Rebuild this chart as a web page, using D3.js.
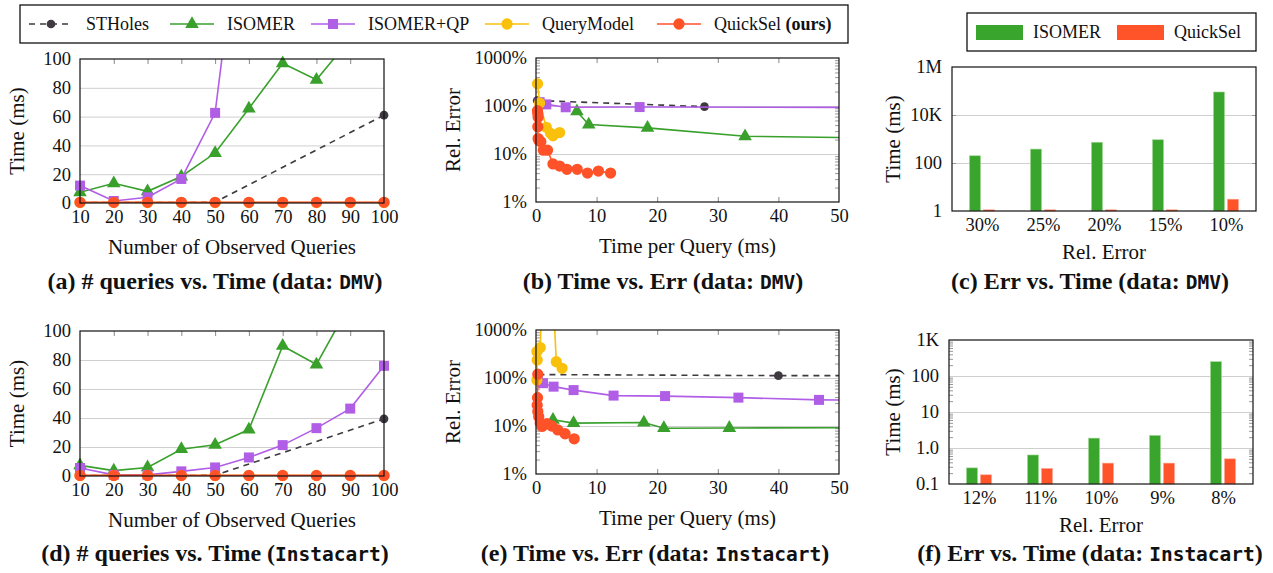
<!DOCTYPE html>
<html>
<head>
<meta charset="utf-8">
<script src="https://cdn.jsdelivr.net/npm/d3@7"></script>
<style>
  body { margin: 0; background: #fff; }
  text { font-family: 'Liberation Serif', 'Times New Roman', serif; fill: #111; }
</style>
</head>
<body>
<script>
// ---- data ----
var seriesNames = ["STHoles", "ISOMER", "ISOMER+QP", "QueryModel", "QuickSel"];
var seriesColors = ["#3e3a3f", "#39a02c", "#b15ee6", "#f9c00c", "#ff5229"];

var queryCounts = [10, 20, 30, 40, 50, 60, 70, 80, 90, 100];
var sthQueryCounts = [10, 20, 30, 40, 50, 100];

// (a) DMV, time (ms) vs number of observed queries
var dmvSTHolesTime = [0.3, 0.3, 0.3, 0.3, 0.6, 61];
var dmvIsomerTime = [7.4, 13.7, 8.1, 18.4, 34.7, 65.6, 97, 85.6, 114, 135];
var dmvIsomerQPTime = [12.1, 1.4, 4, 16.7, 62.6, 250, 420, 600, 800, 1000];
var dmvQueryModelTime = [0.3, 0.3, 0.3, 0.3, 0.3, 0.3, 0.3, 0.3, 0.3, 0.3];
var dmvQuickSelTime = [0.5, 0.5, 0.5, 0.5, 0.5, 0.5, 0.5, 0.5, 0.5, 0.5];

// (d) Instacart, time (ms) vs number of observed queries
var instSTHolesTime = [0.3, 0.3, 0.3, 0.3, 0.5, 39.4];
var instIsomerTime = [7.3, 3.7, 5.9, 18.5, 21.5, 32, 89.7, 76.9, 119, 150];
var instIsomerQPTime = [5.5, 0.8, 0.8, 3.2, 5.9, 12.8, 21.3, 33, 46.5, 76];
var instQueryModelTime = [0.3, 0.3, 0.3, 0.3, 0.3, 0.3, 0.3, 0.3, 0.3, 0.3];
var instQuickSelTime = [0.4, 0.4, 0.4, 0.4, 0.4, 0.4, 0.4, 0.4, 0.4, 0.4];

// (b) DMV, time per query (ms) / relative error (%)
var dmvSTHolesMs = [0.2, 27.8];
var dmvSTHolesErr = [130, 97];
var dmvIsomerMs = [6.75, 8.7, 18.4, 34.5, 70];
var dmvIsomerErr = [77, 41, 35, 23.4, 20.5];
var dmvIsomerQPMs = [0.6, 1.7, 4.9, 17.1, 60];
var dmvIsomerQPErr = [120, 108, 94, 95, 93];
var dmvQueryModelMs = [0.25, 0.6, 1.7, 2.4, 2.8, 3.9];
var dmvQueryModelErr = [290, 115, 36, 27, 24, 28];
var dmvQuickSelMs = [0.25, 0.3, 0.35, 0.3, 0.35, 0.5, 0.8, 1.2, 1.9, 2.8, 3.9, 5.1, 6.8, 8.5, 10.3, 12.3];
var dmvQuickSelErr = [80, 70, 58, 37, 21, 19, 18, 12, 12, 6.2, 5.6, 4.8, 4.8, 4.0, 4.4, 4.0];

// (e) Instacart, time per query (ms) / relative error (%)
var instSTHolesMs = [0.4, 40, 70];
var instSTHolesErr = [118, 112, 112];
var instIsomerMs = [2.8, 6.2, 17.8, 21.1, 31.9, 70];
var instIsomerErr = [13.5, 11.5, 11.8, 9.0, 9.1, 9.3];
var instIsomerQPMs = [0.3, 1.15, 2.9, 6.2, 12.8, 21.3, 33.4, 46.7, 70];
var instIsomerQPErr = [100, 78, 66, 56, 43, 42, 39, 35, 33];
var instQueryModelMs = [0.15, 0.2, 0.15, 0.7, 1.76, 3.35, 4.3];
var instQueryModelErr = [91, 238, 355, 430, 3000000, 218, 159];
var instQuickSelMs = [0.3, 0.25, 0.2, 0.3, 0.45, 0.7, 1.0, 1.8, 2.6, 3.6, 4.8, 6.3];
var instQuickSelErr = [120, 39, 27, 20, 15.6, 11.5, 9.8, 11.2, 10, 8.3, 6.9, 5.4];

// (c) / (f) bars: time (ms) to reach a relative error
var barNames = ["ISOMER", "QuickSel"];
var barColors = ["#3aa52c", "#ff532a"];
var dmvErrLabels = ["30%", "25%", "20%", "15%", "10%"];
var dmvBarIsomer = [200, 380, 730, 930, 91000];
var dmvBarQuickSel = [1.12, 1.12, 1.12, 1.12, 3.1];
var instErrLabels = ["12%", "11%", "10%", "9%", "8%"];
var instBarIsomer = [0.28, 0.64, 1.88, 2.23, 250];
var instBarQuickSel = [0.18, 0.27, 0.38, 0.38, 0.5];

var captions = [
    ["(a) # queries vs. Time (data: ", "DMV", ")"],
    ["(b) Time vs. Err (data: ", "DMV", ")"],
    ["(c) Err vs. Time (data: ", "DMV", ")"],
    ["(d) # queries vs. Time (", "Instacart", ")"],
    ["(e) Time vs. Err (data: ", "Instacart", ")"],
    ["(f) Err vs. Time (data: ", "Instacart", ")"]
];

// ---- drawing ----
var svg = d3.select("body").append("svg")
    .attr("width", 1273)
    .attr("height", 573);

var tickFont = "18.5px";
var labelFont = "21px";
var clipId = 0;

function symbolFor(i) {
    if (i == 1) return d3.symbol(d3.symbolTriangle, 80)();
    if (i == 2) return d3.symbol(d3.symbolSquare, 100)();
    if (i == 0) return d3.symbol(d3.symbolCircle, 60)();
    return d3.symbol(d3.symbolCircle, 100)();
}

function zip(xs, ys) {
    return xs.map(function(v, i) { return { x: v, y: ys[i] }; });
}

function styleAxis(g, color) {
    g.select(".domain").remove();
    g.selectAll("line").attr("stroke", color || "#888").attr("stroke-width", 1);
    g.selectAll("text").style("font-size", tickFont).style("font-family", "'Liberation Serif', serif").attr("fill", "#111");
}

function logMinor(lo, hi) {
    var out = [];
    for (var e = lo; e < hi; e++) {
        for (var k = 2; k <= 9; k++) out.push(k * Math.pow(10, e));
    }
    return out;
}

function drawLinePanel(p) {
    var g = svg.append("g");
    var x = p.x, y = p.y;
    var w = p.right - p.left;

    // horizontal grid
    g.append("g")
        .attr("transform", "translate(" + p.left + ",0)")
        .call(d3.axisLeft(y).tickValues(p.gridY).tickSize(-w).tickFormat(""))
        .call(styleAxis, "#cfcfcf");

    if (p.minorY) {
        g.append("g")
            .attr("transform", "translate(" + p.left + ",0)")
            .call(d3.axisLeft(y).tickValues(p.minorY).tickSize(-4).tickFormat(""))
            .call(styleAxis, "#999");
        g.append("g")
            .attr("transform", "translate(" + p.right + ",0)")
            .call(d3.axisRight(y).tickValues(p.minorY).tickSize(-4).tickFormat(""))
            .call(styleAxis, "#999");
    }

    // inner x tick marks at top and bottom
    g.append("g")
        .attr("transform", "translate(0," + p.bottom + ")")
        .call(d3.axisBottom(x).tickValues(p.innerX).tickSize(-5).tickFormat(""))
        .call(styleAxis, "#888");
    g.append("g")
        .attr("transform", "translate(0," + p.top + ")")
        .call(d3.axisTop(x).tickValues(p.innerX).tickSize(-5).tickFormat(""))
        .call(styleAxis, "#888");

    // clip for lines
    clipId++;
    var cid = "clip" + clipId;
    svg.append("clipPath").attr("id", cid).append("rect")
        .attr("x", p.left).attr("y", p.top)
        .attr("width", w).attr("height", p.bottom - p.top);

    var line = d3.line().x(function(d) { return x(d.x); }).y(function(d) { return y(d.y); });
    var yd = y.domain();
    var xd = x.domain();

    p.series.forEach(function(s, i) {
        var col = seriesColors[i];
        g.append("path")
            .datum(s)
            .attr("clip-path", "url(#" + cid + ")")
            .attr("d", line)
            .attr("fill", "none")
            .attr("stroke", col)
            .attr("stroke-width", 1.6)
            .attr("stroke-dasharray", i == 0 ? "6,5" : null);
        g.selectAll(".m" + i)
            .data(s.filter(function(d) { return d.y <= yd[1] && d.y >= yd[0] && d.x <= xd[1]; }))
            .enter().append("path")
            .attr("class", "m" + i)
            .attr("transform", function(d) { return "translate(" + x(d.x) + "," + y(d.y) + ")"; })
            .attr("d", symbolFor(i))
            .attr("fill", col);
    });

    // frame
    g.append("rect")
        .attr("x", p.left).attr("y", p.top)
        .attr("width", w).attr("height", p.bottom - p.top)
        .attr("fill", "none").attr("stroke", "#111").attr("stroke-width", 1.2);

    // tick labels
    g.append("g")
        .attr("transform", "translate(0," + p.bottom + ")")
        .call(d3.axisBottom(x).tickValues(p.ticksX).tickSize(0).tickPadding(7).tickFormat(d3.format("d")))
        .call(styleAxis);
    g.append("g")
        .attr("transform", "translate(" + p.left + ",0)")
        .call(d3.axisLeft(y).tickValues(p.ticksY).tickSize(0).tickPadding(9).tickFormat(p.fmtY))
        .call(styleAxis);

    g.append("text")
        .attr("x", (p.left + p.right) / 2).attr("y", p.bottom + 51)
        .attr("text-anchor", "middle").style("font-size", labelFont)
        .text(p.xLabel);
    g.append("text")
        .attr("transform", "translate(" + p.yLabelX + "," + ((p.top + p.bottom) / 2) + ") rotate(-90)")
        .attr("text-anchor", "middle").attr("dy", "0.35em").style("font-size", labelFont)
        .text(p.yLabel);
}

function drawBarPanel(p) {
    var g = svg.append("g");
    var w = p.right - p.left;
    var x = d3.scalePoint().domain(p.labels).range([p.left + 30, p.right - 30]);
    var y = d3.scaleLog().domain(p.domainY).range([p.bottom, p.top]);

    g.append("g")
        .attr("transform", "translate(" + p.left + ",0)")
        .call(d3.axisLeft(y).tickValues(p.gridY).tickSize(-w).tickFormat(""))
        .call(styleAxis, "#cfcfcf");
    g.append("g")
        .attr("transform", "translate(" + p.right + ",0)")
        .call(d3.axisRight(y).tickValues(p.markY).tickSize(-4).tickFormat(""))
        .call(styleAxis, "#999");
    g.append("g")
        .attr("transform", "translate(" + p.left + ",0)")
        .call(d3.axisLeft(y).tickValues(p.markY).tickSize(-4).tickFormat(""))
        .call(styleAxis, "#999");

    var groups = [p.isomer, p.quicksel];
    groups.forEach(function(vals, k) {
        g.selectAll(".b" + k)
            .data(vals)
            .enter().append("rect")
            .attr("class", "b" + k)
            .attr("x", function(d, i) { return x(p.labels[i]) + (k == 0 ? -12.5 : 1.5); })
            .attr("y", function(d) { return y(d); })
            .attr("width", 11)
            .attr("height", function(d) { return p.bottom - y(d); })
            .attr("fill", barColors[k])
            .attr("stroke", k == 0 ? "#9fd893" : "#ffa58f")
            .attr("stroke-width", 0.6);
    });

    g.append("rect")
        .attr("x", p.left).attr("y", p.top)
        .attr("width", w).attr("height", p.bottom - p.top)
        .attr("fill", "none").attr("stroke", "#111").attr("stroke-width", 1.2);

    g.append("g")
        .attr("transform", "translate(0," + p.bottom + ")")
        .call(d3.axisBottom(x).tickSize(0).tickPadding(7))
        .call(styleAxis);
    g.append("g")
        .attr("transform", "translate(" + p.left + ",0)")
        .call(d3.axisLeft(y).tickValues(p.ticksY).tickSize(0).tickPadding(10)
            .tickFormat(function(d, i) { return p.tickLabels[i]; }))
        .call(styleAxis);

    g.append("text")
        .attr("x", (p.left + p.right) / 2).attr("y", p.bottom + 48)
        .attr("text-anchor", "middle").style("font-size", labelFont)
        .text("Rel. Error");
    g.append("text")
        .attr("transform", "translate(" + p.yLabelX + "," + ((p.top + p.bottom) / 2) + ") rotate(-90)")
        .attr("text-anchor", "middle").attr("dy", "0.35em").style("font-size", labelFont)
        .text("Time (ms)");
}

// panel (a)
drawLinePanel({
    left: 80, right: 384, top: 59, bottom: 203,
    x: d3.scaleLinear().domain([10, 100]).range([80, 384]),
    y: d3.scaleLinear().domain([0, 100]).range([203, 59]),
    gridY: [20, 40, 60, 80], innerX: [20, 30, 40, 50, 60, 70, 80, 90],
    ticksX: queryCounts, ticksY: [0, 20, 40, 60, 80, 100], fmtY: d3.format("d"),
    xLabel: "Number of Observed Queries", yLabel: "Time (ms)", yLabelX: 17,
    series: [zip(sthQueryCounts, dmvSTHolesTime), zip(queryCounts, dmvIsomerTime),
        zip(queryCounts, dmvIsomerQPTime), zip(queryCounts, dmvQueryModelTime),
        zip(queryCounts, dmvQuickSelTime)]
});

// panel (d)
drawLinePanel({
    left: 80, right: 384, top: 331, bottom: 476,
    x: d3.scaleLinear().domain([10, 100]).range([80, 384]),
    y: d3.scaleLinear().domain([0, 100]).range([476, 331]),
    gridY: [20, 40, 60, 80], innerX: [20, 30, 40, 50, 60, 70, 80, 90],
    ticksX: queryCounts, ticksY: [0, 20, 40, 60, 80, 100], fmtY: d3.format("d"),
    xLabel: "Number of Observed Queries", yLabel: "Time (ms)", yLabelX: 17,
    series: [zip(sthQueryCounts, instSTHolesTime), zip(queryCounts, instIsomerTime),
        zip(queryCounts, instIsomerQPTime), zip(queryCounts, instQueryModelTime),
        zip(queryCounts, instQuickSelTime)]
});

var pctFmt = function(d) { return d + "%"; };

// panel (b)
drawLinePanel({
    left: 536, right: 839, top: 58, bottom: 202,
    x: d3.scaleLinear().domain([0, 50]).range([536, 839]),
    y: d3.scaleLog().domain([1, 1000]).range([202, 58]),
    gridY: [10, 100], minorY: logMinor(0, 3), innerX: [10, 20, 30, 40],
    ticksX: [0, 10, 20, 30, 40, 50], ticksY: [1, 10, 100, 1000], fmtY: pctFmt,
    xLabel: "Time per Query (ms)", yLabel: "Rel. Error", yLabelX: 453,
    series: [zip(dmvSTHolesMs, dmvSTHolesErr), zip(dmvIsomerMs, dmvIsomerErr),
        zip(dmvIsomerQPMs, dmvIsomerQPErr), zip(dmvQueryModelMs, dmvQueryModelErr),
        zip(dmvQuickSelMs, dmvQuickSelErr)]
});

// panel (e)
drawLinePanel({
    left: 536, right: 839, top: 330, bottom: 474,
    x: d3.scaleLinear().domain([0, 50]).range([536, 839]),
    y: d3.scaleLog().domain([1, 1000]).range([474, 330]),
    gridY: [10, 100], minorY: logMinor(0, 3), innerX: [10, 20, 30, 40],
    ticksX: [0, 10, 20, 30, 40, 50], ticksY: [1, 10, 100, 1000], fmtY: pctFmt,
    xLabel: "Time per Query (ms)", yLabel: "Rel. Error", yLabelX: 453,
    series: [zip(instSTHolesMs, instSTHolesErr), zip(instIsomerMs, instIsomerErr),
        zip(instIsomerQPMs, instIsomerQPErr), zip(instQueryModelMs, instQueryModelErr),
        zip(instQuickSelMs, instQuickSelErr)]
});

// panel (c)
drawBarPanel({
    left: 952, right: 1256, top: 67, bottom: 211,
    labels: dmvErrLabels, isomer: dmvBarIsomer, quicksel: dmvBarQuickSel,
    domainY: [1, 1e6], gridY: [100, 1e4], markY: [100, 1e4],
    ticksY: [1, 100, 1e4, 1e6], tickLabels: ["1", "100", "10K", "1M"], yLabelX: 893
});

// panel (f)
drawBarPanel({
    left: 949, right: 1253, top: 340, bottom: 484,
    labels: instErrLabels, isomer: instBarIsomer, quicksel: instBarQuickSel,
    domainY: [0.1, 1000], gridY: [1, 10, 100], markY: logMinor(-1, 3),
    ticksY: [0.1, 1, 10, 100, 1000], tickLabels: ["0.1", "1.0", "10", "100", "1K"], yLabelX: 893
});

// top legend
var legend = svg.append("g");
legend.append("rect")
    .attr("x", 20).attr("y", 5).attr("width", 828).attr("height", 38)
    .attr("fill", "#fff").attr("stroke", "#111").attr("stroke-width", 1.3);
var legendX = [29, 170, 311, 485, 657];
seriesNames.forEach(function(name, i) {
    var lx = legendX[i];
    legend.append("line")
        .attr("x1", lx).attr("x2", lx + 44).attr("y1", 24).attr("y2", 24)
        .attr("stroke", seriesColors[i]).attr("stroke-width", 1.6)
        .attr("stroke-dasharray", i == 0 ? "6,5" : null);
    legend.append("path")
        .attr("transform", "translate(" + (lx + 22) + ",24)")
        .attr("d", symbolFor(i))
        .attr("fill", seriesColors[i]);
    var t = legend.append("text")
        .attr("x", lx + 57).attr("y", 30)
        .style("font-size", "18px");
    t.append("tspan").text(name);
    if (i == 4) t.append("tspan").attr("font-weight", "bold").text(" (ours)");
});

// bar legend
var bl = svg.append("g");
bl.append("rect")
    .attr("x", 967).attr("y", 13).attr("width", 289).attr("height", 38)
    .attr("fill", "#fff").attr("stroke", "#111").attr("stroke-width", 1.3);
barNames.forEach(function(name, i) {
    var bx = i == 0 ? 976 : 1117;
    bl.append("rect")
        .attr("x", bx).attr("y", 25).attr("width", 47).attr("height", 15)
        .attr("fill", barColors[i]);
    bl.append("text")
        .attr("x", bx + 57).attr("y", 38)
        .style("font-size", "18px")
        .text(name);
});

// captions
var capPos = [[215, 289], [663, 289], [1090, 289], [215, 561], [655, 561], [1090, 561]];
captions.forEach(function(c, i) {
    var t = svg.append("text")
        .attr("x", capPos[i][0]).attr("y", capPos[i][1])
        .attr("text-anchor", "middle")
        .style("font-size", "24px")
        .attr("font-weight", "bold");
    t.append("tspan").text(c[0]);
    t.append("tspan").style("font-family", "'DejaVu Sans Mono', monospace").style("font-size", "19.5px").text(c[1]);
    t.append("tspan").text(c[2]);
});
</script>
</body>
</html>
